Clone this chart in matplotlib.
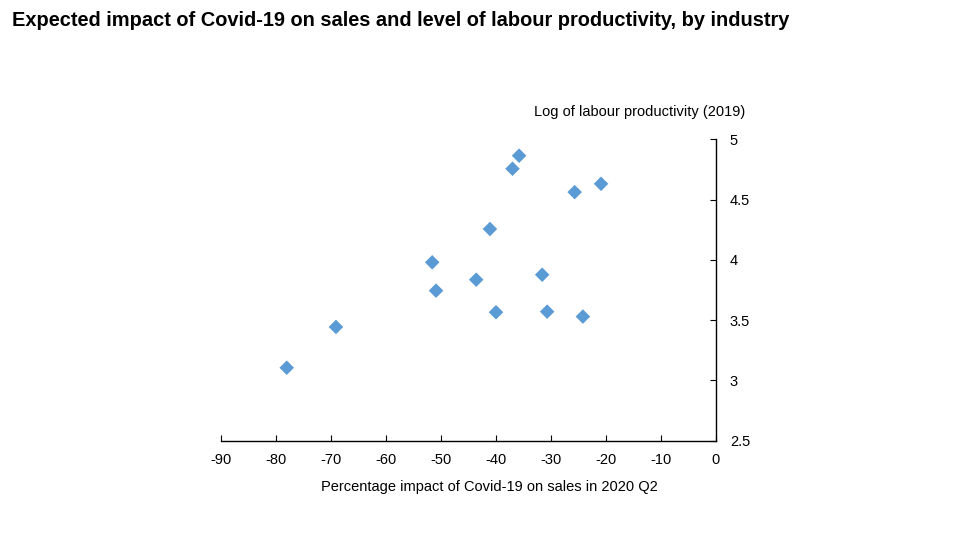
import matplotlib
matplotlib.use("Agg")
import matplotlib.pyplot as plt

sales_impact = [-35.8, -37.0, -20.9, -25.7, -41.1, -51.6, -31.6, -43.6, -50.9, -40.0, -30.7, -24.2, -69.1, -78.05]
log_productivity = [4.864, 4.756, 4.631, 4.562, 4.256, 3.980, 3.877, 3.836, 3.745, 3.566, 3.571, 3.530, 3.444, 3.106]

x_ticks = [-90, -80, -70, -60, -50, -40, -30, -20, -10, 0]
x_ticklabels = ["-90", "-80", "-70", "-60", "-50", "-40", "-30", "-20", "-10", "0"]
y_ticks = [2.5, 3, 3.5, 4, 4.5, 5]
y_ticklabels = ["2.5", "3", "3.5", "4", "4.5", "5"]

plt.rcParams['font.family'] = ['Liberation Sans', 'DejaVu Sans']

fig = plt.figure(figsize=(9.6, 5.4), dpi=100)
ax = fig.add_axes([221/960, 1 - 440.8/540, (716 - 221)/960, (440.8 - 139.3)/540])

ax.scatter(sales_impact, log_productivity, marker='D', s=55, color='#5B9BD5',
           edgecolors='none', zorder=3)

ax.set_xlim(-90, 0)
ax.set_ylim(2.5, 5)
ax.set_xticks(x_ticks)
ax.set_xticklabels(x_ticklabels)
ax.set_yticks(y_ticks)
ax.set_yticklabels(y_ticklabels)

ax.spines['top'].set_visible(False)
ax.spines['left'].set_visible(False)
ax.spines['right'].set_linewidth(1.0)
ax.spines['bottom'].set_linewidth(1.0)
ax.yaxis.tick_right()
ax.tick_params(axis='both', direction='in', length=4, width=0.8, labelsize=10.5, colors='black')
ax.tick_params(axis='y', pad=10)
ax.tick_params(axis='x', pad=9)

fig.text(489.5/960, 1 - 487/540, "Percentage impact of Covid-19 on sales in 2020 Q2",
         ha='center', va='center', fontsize=10.5)
fig.text(745/960, 1 - 112/540, "Log of labour productivity (2019)", ha='right', va='center', fontsize=10.5)

fig.text(12/960, 1 - 21/540, "Expected impact of Covid-19 on sales and level of labour productivity, by industry",
         ha='left', va='center', fontsize=14.4, fontweight='bold')

fig.savefig("out.png", dpi=100)
